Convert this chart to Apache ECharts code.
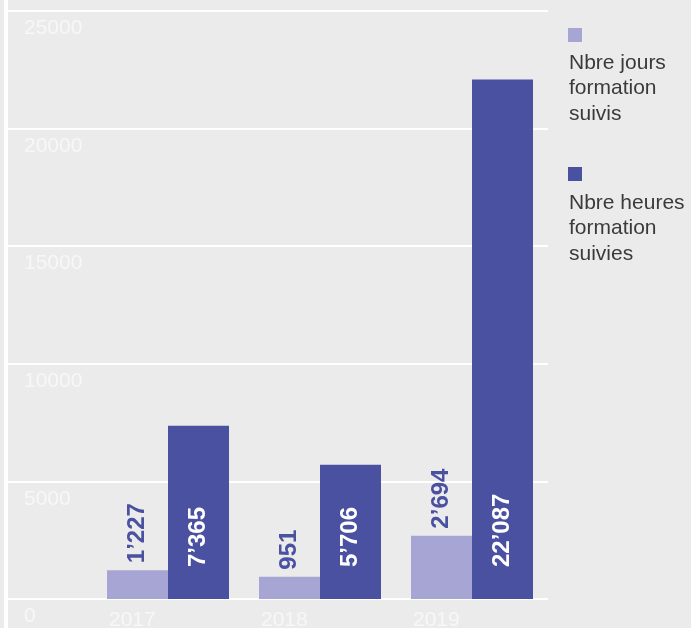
<!DOCTYPE html>
<html>
<head>
<meta charset="utf-8">
<script src="https://cdn.jsdelivr.net/npm/echarts@6/dist/echarts.min.js"></script>
<style>
  html, body { margin: 0; padding: 0; background: #ebebeb; }
  #chart { width: 691px; height: 628px; }
</style>
</head>
<body>
<div id="chart"></div>
<script>
// données
const years = ['2017', '2018', '2019']
const joursSuivis = [1227, 951, 2694]
const heuresSuivies = [7365, 5706, 22087]
const yMin = 0
const yMax = 25000
const yStep = 5000
const seriesNames = ['Nbre jours formation suivis', 'Nbre heures formation suivies']
const legendLines = [['Nbre jours', 'formation', 'suivis'], ['Nbre heures', 'formation', 'suivies']]

const light = '#a7a5d3'
const dark = '#4a51a0'
const font = 'Liberation Sans'

// 1'227 style
function fmt(v) {
  return String(v).replace(/\B(?=(\d{3})+(?!\d))/g, '\u2019')
}

const chart = echarts.init(document.getElementById('chart'))
chart.setOption({
  backgroundColor: '#ebebeb',
  animation: false,
  textStyle: { fontFamily: font },
  grid: [
    { left: 6, right: 143, top: 11, bottom: 29, outerBoundsMode: 'none' },
    { left: 92, right: 143, top: 11, bottom: 29, outerBoundsMode: 'none' }
  ],
  xAxis: [
    { type: 'value', gridIndex: 0, show: false },
    {
      type: 'category',
      gridIndex: 1,
      data: years,
      axisLine: { show: false },
      axisTick: { show: false },
      axisLabel: {
        margin: 11,
        formatter: v => '{a|' + v + '}',
        rich: {
          a: { width: 118, align: 'left', color: '#f7f7f7', fontSize: 21, fontFamily: font }
        }
      }
    }
  ],
  yAxis: [
    {
      type: 'value',
      gridIndex: 0,
      min: yMin,
      max: yMax,
      interval: yStep,
      axisLine: { show: true, lineStyle: { color: '#ffffff', width: 4 } },
      axisTick: { show: false },
      splitLine: { lineStyle: { color: '#ffffff', width: 2 } },
      axisLabel: {
        inside: true,
        margin: 18,
        verticalAlign: 'top',
        padding: [7, 0, 0, 0],
        color: '#f7f7f7',
        fontSize: 21,
        fontFamily: font,
        formatter: v => String(v)
      }
    },
    { type: 'value', gridIndex: 1, min: yMin, max: yMax, interval: yStep, show: false }
  ],
  legend: [
    {
      data: [seriesNames[0]],
      left: 568, top: 28, padding: 0,
      icon: 'rect', itemWidth: 14, itemHeight: 14,
      formatter: () => ''
    },
    {
      data: [seriesNames[1]],
      left: 568, top: 167, padding: 0,
      icon: 'rect', itemWidth: 14, itemHeight: 14,
      formatter: () => ''
    }
  ],
  graphic: [
    { type: 'rect', left: 4, top: 0, shape: { width: 4, height: 628 }, style: { fill: '#ffffff' }, z: 10 },
    {
      type: 'text', left: 569, top: 50,
      style: { text: legendLines[0].join('\n'), fill: '#3a3a3a', fontSize: 21, lineHeight: 25.5, fontFamily: font }
    },
    {
      type: 'text', left: 569, top: 190,
      style: { text: legendLines[1].join('\n'), fill: '#3a3a3a', fontSize: 21, lineHeight: 25.5, fontFamily: font }
    }
  ],
  series: [
    {
      name: seriesNames[0],
      type: 'bar',
      xAxisIndex: 1,
      yAxisIndex: 1,
      data: joursSuivis,
      barWidth: 61,
      barGap: '0%',
      itemStyle: { color: light },
      label: {
        show: true,
        position: 'top',
        rotate: 90,
        align: 'left',
        verticalAlign: 'middle',
        distance: 7,
        color: dark,
        fontWeight: 'bold',
        fontSize: 24,
        fontFamily: font,
        formatter: p => fmt(p.value)
      }
    },
    {
      name: seriesNames[1],
      type: 'bar',
      xAxisIndex: 1,
      yAxisIndex: 1,
      data: heuresSuivies,
      barWidth: 61,
      barGap: '0%',
      itemStyle: { color: dark },
      label: {
        show: true,
        position: 'insideBottom',
        rotate: 90,
        align: 'left',
        verticalAlign: 'middle',
        distance: 32,
        color: '#ffffff',
        fontWeight: 'bold',
        fontSize: 24,
        fontFamily: font,
        formatter: p => fmt(p.value)
      }
    }
  ]
})
</script>
</body>
</html>
